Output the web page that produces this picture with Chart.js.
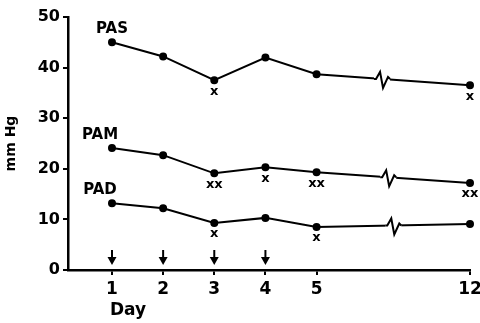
<!DOCTYPE html>
<html>
<head>
<meta charset="utf-8">
<script src="https://cdn.jsdelivr.net/npm/chart.js@4"></script>
<style>
html, body { margin: 0; padding: 0; background: #fff; }
#wrap { width: 480px; height: 323px; }
</style>
</head>
<body>
<div id="wrap"><canvas id="bpChart"></canvas></div>
<script>
// days on the x axis, day 12 is placed after a break
const dayLabels = ["1", "2", "3", "4", "5", "12"];
const dayPos = [1, 2, 3, 4, 5, 8];
const yTicks = [0, 10, 20, 30, 40, 50];

// pressures in mm Hg
const pas = [45.0, 42.2, 37.5, 42.0, 38.7, 36.5];
const pam = [24.1, 22.7, 19.1, 20.3, 19.3, 17.2];
const pad = [13.2, 12.2, 9.3, 10.3, 8.5, 9.1];

// x / xx notes under the points
const pasMarks = ["", "", "x", "", "", "x"];
const pamMarks = ["", "", "xx", "x", "xx", "xx"];
const padMarks = ["", "", "x", "", "x", ""];

const seriesNames = ["PAS", "PAM", "PAD"];
const arrowDays = [1, 2, 3, 4];
const breakPos = [6.28, 6.4, 6.5];

const FONT = "'DejaVu Sans', sans-serif";

function toPoints(vals) {
  return dayPos.map((x, i) => ({ x: x, y: vals[i] }));
}

function lineSet(name, vals, marks) {
  return {
    label: name,
    data: toPoints(vals),
    marks: marks,
    borderColor: "#000",
    backgroundColor: "#000",
    borderWidth: 2,
    pointRadius: 3,
    tension: 0,
    clip: false
  };
}

// labels, x marks, breaks and arrows
const extras = {
  id: "extras",
  afterDatasetsDraw(chart) {
    const c = chart.ctx;
    const xs = chart.scales.x;
    const area = chart.chartArea;
    c.save();
    c.lineWidth = 2;
    c.strokeStyle = "#000";
    c.fillStyle = "#000";

    chart.data.datasets.forEach((ds, i) => {
      const pts = chart.getDatasetMeta(i).data;

      // broken line between day 5 and day 12
      const a = pts[4], b = pts[5];
      const bx = xs.getPixelForValue(breakPos[i]);
      const by = a.y + (b.y - a.y) * (bx - a.x) / (b.x - a.x);
      c.fillStyle = "#fff";
      c.fillRect(bx - 8, by - 3, 16, 6);
      c.beginPath();
      c.moveTo(bx - 8, by);
      c.lineTo(bx - 6, by);
      c.lineTo(bx - 2, by - 7);
      c.lineTo(bx + 1, by + 9);
      c.lineTo(bx + 6, by - 2);
      c.lineTo(bx + 8, by);
      c.stroke();

      // x marks
      c.fillStyle = "#000";
      c.font = "bold 13px " + FONT;
      c.textAlign = "center";
      c.textBaseline = "middle";
      ds.marks.forEach((m, j) => {
        if (m) c.fillText(m, pts[j].x, pts[j].y + 11);
      });

      // series name
      c.font = "bold 15px " + FONT;
      const dx = i === 0 ? 0 : -12;
      c.fillText(ds.label, pts[0].x + dx, pts[0].y - 13);
    });

    // arrows above the x axis
    arrowDays.forEach(d => {
      const x = xs.getPixelForValue(d);
      const tip = area.bottom - 5;
      c.beginPath();
      c.moveTo(x, tip - 15);
      c.lineTo(x, tip - 6);
      c.stroke();
      c.beginPath();
      c.moveTo(x - 4.5, tip - 8);
      c.lineTo(x + 4.5, tip - 8);
      c.lineTo(x, tip);
      c.closePath();
      c.fill();
    });

    // x axis title
    c.font = "bold 17px " + FONT;
    c.textAlign = "left";
    c.textBaseline = "middle";
    c.fillText("Day", xs.getPixelForValue(1) - 2, 311);
    c.restore();
  }
};

new Chart(document.getElementById("bpChart"), {
  type: "line",
  data: {
    datasets: [
      lineSet(seriesNames[0], pas, pasMarks),
      lineSet(seriesNames[1], pam, pamMarks),
      lineSet(seriesNames[2], pad, padMarks)
    ]
  },
  options: {
    responsive: true,
    maintainAspectRatio: false,
    animation: false,
    layout: { padding: { top: 17, right: 10, left: 0, bottom: 0 } },
    plugins: {
      legend: { display: false },
      tooltip: { enabled: false }
    },
    scales: {
      x: {
        type: "linear",
        min: 0.14,
        max: 8,
        afterBuildTicks: s => { s.ticks = dayPos.map(v => ({ value: v })); },
        afterFit: s => { s.height = 53; s.paddingLeft = 0; s.paddingRight = 0; },
        border: { color: "#000", width: 2.5 },
        grid: { drawOnChartArea: false, color: "#000", lineWidth: 2, tickLength: 5 },
        ticks: {
          color: "#000",
          padding: 4,
          maxRotation: 0,
          autoSkip: false,
          font: { family: FONT, size: 17, weight: "bold" },
          callback: v => dayLabels[dayPos.indexOf(v)]
        }
      },
      y: {
        min: 0,
        max: 50,
        afterBuildTicks: s => { s.ticks = yTicks.map(v => ({ value: v })); },
        afterFit: s => { s.width = 68; s.paddingTop = 0; s.paddingBottom = 0; },
        border: { color: "#000", width: 2.5 },
        grid: { drawOnChartArea: false, color: "#000", lineWidth: 2, tickLength: 5 },
        title: {
          display: true,
          text: "mm Hg",
          color: "#000",
          font: { family: FONT, size: 14, weight: "bold" },
          padding: { top: 3, bottom: 4 }
        },
        ticks: {
          color: "#000",
          padding: 3,
          font: { family: FONT, size: 16, weight: "bold" }
        }
      }
    }
  },
  plugins: [extras]
});
</script>
</body>
</html>
